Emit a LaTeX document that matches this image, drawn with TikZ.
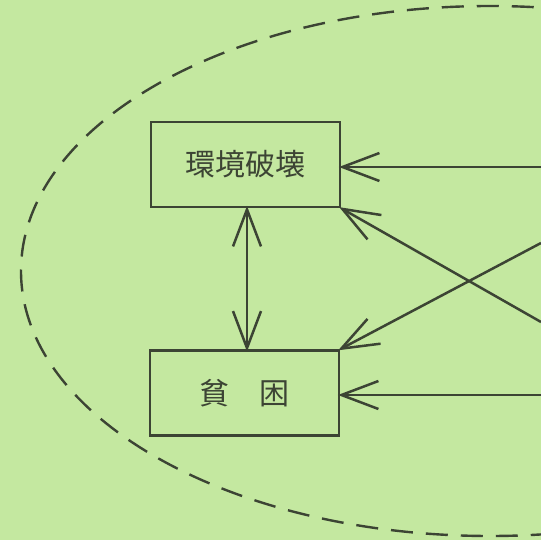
\documentclass[tikz,border=0pt]{standalone}
\usepackage{fontspec}
\newfontfamily\jpfont{Noto Sans CJK JP}
\usetikzlibrary{arrows.meta}
\definecolor{bgc}{RGB}{196,232,160}
\definecolor{ink}{RGB}{60,68,52}
\tikzset{
  boxnode/.style={draw=ink, line width=2.8pt, minimum width=189pt, minimum height=85pt, inner sep=0pt, text=ink, font=\jpfont\fontsize{30pt}{31pt}\selectfont},
  conn/.style={draw=ink, line width=2.5pt, shorten >=-2.5pt, -{Straight Barb[length=37pt, width=28pt, line width=2.5pt]}},
  dconn/.style={draw=ink, line width=2.5pt, shorten >=-2.5pt, shorten <=-2.5pt, {Straight Barb[length=37pt, width=28pt, line width=2.5pt]}-{Straight Barb[length=37pt, width=28pt, line width=2.5pt]}},
  bound/.style={draw=ink, line width=2.4pt, dash pattern=on 22pt off 13pt}
}
\begin{document}
\begin{tikzpicture}[x=1pt, y=-1pt]
\fill[bgc] (0,0) rectangle (541,540);
\useasboundingbox (0,0) rectangle (541,540);
\begin{scope}
\clip (0,0) rectangle (541,540);
\draw[bound] (490,271) ellipse [x radius=469, y radius=265];
\end{scope}
\node[boxnode] (b1) at (245.5,164.5) {環境破壊};
\node[boxnode] (b2) at (244.5,393) {貧　困};
\coordinate (r1) at (541,167);
\coordinate (r2) at (541,322);
\coordinate (r3) at (541,243);
\coordinate (r4) at (541,395);
\draw[conn] (r1) -- (r1 -| b1.east);
\draw[conn] (r2) -- (b1.south east);
\draw[conn] (r3) -- (b2.north east);
\draw[conn] (r4) -- (r4 -| b2.east);
\draw[dconn] (b1.south -| 247,0) -- (b2.north -| 247,0);
\end{tikzpicture}
\end{document}
